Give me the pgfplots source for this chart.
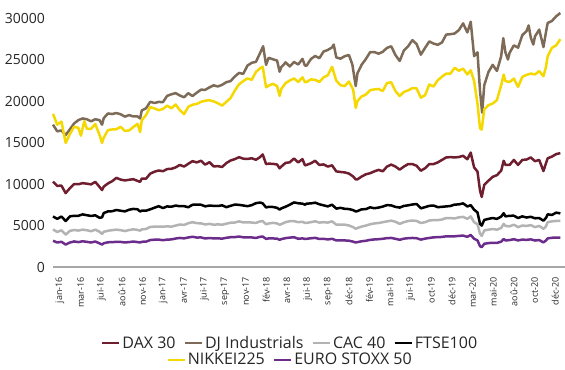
\documentclass[border=0pt]{standalone}
\usepackage{pgfplots}
\pgfplotsset{compat=1.18}
\usepackage{fontspec}
\setmainfont{Open Sans}

\definecolor{daxc}{HTML}{6E1E2E}
\definecolor{djc}{HTML}{7D6B58}
\definecolor{cacc}{HTML}{B3B3B3}
\definecolor{ftsec}{HTML}{000000}
\definecolor{nikc}{HTML}{F5D800}
\definecolor{stoxxc}{HTML}{6B2C8C}
\definecolor{axisgray}{HTML}{A6A6A6}
\definecolor{txt}{HTML}{262626}

% x = months since 1 January 2016
\pgfplotsset{
  base/.style={
    scale only axis,
    width=512bp, height=267bp,
    xmin=0, xmax=60.55,
    ymin=0, ymax=32169,
    axis x line*=bottom,
    axis y line*=left,
    x axis line style={axisgray, line width=1.5bp, -},
    y axis line style={draw=none},
    major tick length=0pt,
    xtick={0.83,3.27,5.71,8.15,10.59,13.03,15.47,17.91,20.35,22.79,25.23,27.67,30.11,32.55,34.99,37.43,39.87,42.31,44.75,47.19,49.63,52.07,54.51,56.95,59.39},
    xticklabels={jan-16,mar-16,jui-16,aoû-16,nov-16,jan-17,avr-17,jui-17,sep-17,nov-17,fév-18,avr-18,jui-18,sep-18,déc-18,fév-19,mai-19,jui-19,oct-19,déc-19,mar-20,mai-20,aoû-20,oct-20,déc-20},
    xticklabel style={rotate=90, anchor=east, font=\fontsize{9bp}{10bp}\selectfont, text=txt, inner sep=0pt},
    xticklabel shift=10bp,
    ytick={0,5000,10000,15000,20000,25000,30000},
    yticklabels={0,5000,10000,15000,20000,25000,30000},
    yticklabel style={font=\fontsize{14bp}{16bp}\selectfont, text=txt, inner sep=0pt, anchor=east},
    yticklabel shift=8bp,
    clip=false,
    legend cell align=left,
    legend image code/.code={\draw[#1, line width=2.5bp] (0bp,0bp) -- (17bp,0bp);},
    legend style={draw=none, fill=none, anchor=center,
      font=\fontsize{16bp}{18bp}\selectfont, text=txt,
      inner sep=0pt,
      nodes={inner sep=2bp},
      /tikz/every even column/.append style={column sep=6bp}},
  },
  ser/.style={line width=2.5bp, line join=round},
}

\begin{document}
\begin{tikzpicture}
\begin{axis}[base,
  legend columns=4,
  legend style={at={(axis description cs:0.463,-0.285)}},
]
% DAX 30
\addplot[ser, daxc] coordinates {
(0,10280)(0.5,9780)(1,9800)(1.5,8900)(2,9500)(2.5,9990)(3,9970)(3.5,10100)(4,10040)(4.5,9950)
(5,10260)(5.5,9650)(5.8,9270)(6,9680)(6.5,10070)(7,10340)(7.5,10740)(8,10530)(8.5,10430)(9,10510)
(9.5,10580)(10,10370)(10.3,10260)(10.5,10660)(11,10640)(11.5,11250)(12,11480)(12.5,11630)(13,11540)(13.5,11800)
(14,11830)(14.5,12000)(15,12300)(15.5,12100)(16,12440)(16.5,12750)(17,12600)(17.5,12800)(18,12330)(18.5,12630)
(19,12120)(19.5,12150)(20,12050)(20.5,12520)(21,12830)(21.5,13000)(22,13230)(22.5,13050)(23,13020)(23.5,13100)
(24,12920)(24.5,13250)(24.8,13560)(25.2,12400)(25.5,12450)(26,12430)(26.5,12350)(26.8,11890)(27,12100)(27.5,12540)
(28,12610)(28.5,13080)(29,12600)(29.5,13000)(29.8,12250)(30,12300)(30.5,12500)(31,12800)(31.5,12300)(32,12360)
(32.5,12100)(33,12250)(33.5,11520)(34,11450)(34.5,11400)(35,11260)(35.5,10900)(35.8,10560)(36,10560)(36.5,10900)
(37,11170)(37.5,11300)(38,11520)(38.5,11700)(39,11530)(39.5,12100)(40,12340)(40.5,12100)(41,11730)(41.5,12100)
(42,12400)(42.5,12400)(43,12200)(43.5,11600)(44,11900)(44.5,12400)(45,12400)(45.5,12600)(46,12900)(46.5,13200)
(47,13240)(47.5,13200)(48,13250)(48.5,13400)(49,12980)(49.4,13780)(49.8,12000)(50.2,11500)(50.5,9200)(50.7,8440)
(51,9900)(51.5,10400)(52,10860)(52.5,11070)(53,11600)(53.3,12800)(53.5,12300)(54,12300)(54.5,12900)(55,12300)
(55.5,12900)(56,12950)(56.5,13200)(57,12750)(57.5,12900)(58,11560)(58.3,12500)(58.5,13100)(59,13300)(59.5,13600)(60,13720)
};
\addlegendentry{DAX 30}
% DJ Industrials
\addplot[ser, djc] coordinates {
(0,17150)(0.5,16350)(1,16450)(1.5,15900)(2,16600)(2.5,17300)(3,17700)(3.5,17900)(4,17800)(4.5,17550)
(5,17800)(5.5,17700)(5.8,17140)(6,17930)(6.5,18500)(7,18430)(7.5,18550)(8,18400)(8.5,18120)(9,18300)
(9.5,18140)(10,18140)(10.3,17900)(10.5,18870)(11,19120)(11.5,19900)(12,19760)(12.5,19890)(13,19860)(13.5,20620)
(14,20810)(14.5,20950)(15,20660)(15.5,20450)(16,20940)(16.5,20600)(17,21000)(17.5,21360)(18,21350)(18.5,21640)
(19,21890)(19.5,21750)(20,21950)(20.5,22270)(21,22400)(21.5,22950)(22,23380)(22.5,23270)(23,24270)(23.5,24600)
(24,24720)(24.5,25800)(24.85,26600)(25.2,24350)(25.5,25200)(26,25030)(26.5,24870)(26.8,23530)(27,24100)(27.3,24400)
(27.5,24660)(28,24160)(28.5,24700)(29,24400)(29.5,25080)(29.8,24250)(30,24270)(30.5,25060)(31,25420)(31.5,25160)
(32,25960)(32.5,26150)(33,26460)(33.2,26800)(33.5,25250)(34,25100)(34.5,25400)(35,25540)(35.4,24400)(35.8,21800)
(36,23330)(36.5,24370)(37,25060)(37.5,25880)(38,25900)(38.5,25700)(39,25930)(39.5,26400)(40,26590)(40.5,25530)
(41,24820)(41.5,26090)(42,26600)(42.5,27330)(43,26860)(43.5,25580)(44,26400)(44.5,27180)(45,26920)(45.5,26770)
(46,27050)(46.5,28000)(47,28050)(47.5,28130)(48,28540)(48.5,29350)(49,28260)(49.4,29550)(49.8,25400)(50.2,25860)
(50.5,21200)(50.75,18600)(51,21900)(51.5,23500)(52,24350)(52.5,23620)(53,25380)(53.25,27570)(53.5,25870)(53.8,25000)
(54,25810)(54.5,26700)(55,26430)(55.5,27930)(56,28430)(56.25,29100)(56.5,27660)(56.8,26800)(57,27780)(57.5,28600)
(58,26500)(58.3,28300)(58.5,29400)(59,29640)(59.5,30200)(60,30600)
};
\addlegendentry{DJ Industrials}
% CAC 40
\addplot[ser, cacc] coordinates {
(0,4520)(0.5,4220)(1,4420)(1.5,3900)(2,4350)(2.5,4460)(3,4390)(3.5,4500)(4,4430)(4.5,4310)
(5,4500)(5.5,4250)(5.8,3990)(6,4240)(6.5,4370)(7,4440)(7.5,4500)(8,4440)(8.5,4330)(9,4450)
(9.5,4540)(10,4470)(10.3,4380)(10.5,4530)(11,4580)(11.5,4830)(12,4860)(12.5,4860)(13,4850)(13.5,4900)
(14,4860)(14.5,4990)(15,5120)(15.5,5070)(16,5270)(16.5,5400)(17,5280)(17.5,5260)(18,5120)(18.5,5200)
(19,5090)(19.5,5140)(20,5090)(20.5,5220)(21,5330)(21.5,5360)(22,5500)(22.5,5370)(23,5370)(23.5,5360)
(24,5310)(24.5,5500)(24.8,5520)(25.2,5150)(25.5,5240)(26,5320)(26.5,5250)(26.8,5090)(27,5170)(27.5,5400)
(28,5520)(28.5,5530)(29,5400)(29.5,5450)(29.8,5310)(30,5320)(30.5,5400)(31,5510)(31.5,5350)(32,5400)
(32.5,5350)(33,5500)(33.5,5100)(34,5090)(34.5,5100)(35,5000)(35.5,4800)(35.8,4600)(36,4700)(36.5,4870)
(37,4990)(37.5,5150)(38,5250)(38.5,5300)(39,5400)(39.5,5500)(40,5580)(40.5,5450)(41,5200)(41.5,5400)
(42,5540)(42.5,5600)(43,5550)(43.5,5300)(44,5400)(44.5,5600)(45,5650)(45.5,5650)(46,5720)(46.5,5900)
(47,5900)(47.5,5850)(48,5980)(48.5,6040)(49,5800)(49.4,6100)(49.8,5400)(50.2,5150)(50.5,4000)(50.7,3750)
(51,4400)(51.5,4500)(52,4570)(52.5,4500)(53,4700)(53.3,5200)(53.5,4950)(54,4900)(54.5,5100)(55,4800)
(55.5,5000)(56,4950)(56.5,5050)(57,4800)(57.5,4950)(58,4600)(58.3,4900)(58.5,5400)(59,5500)(59.5,5550)(60,5550)
};
\addlegendentry{CAC 40}
% FTSE100
\addplot[ser, ftsec] coordinates {
(0,6090)(0.5,5800)(1,6080)(1.5,5540)(2,6100)(2.5,6170)(3,6170)(3.5,6340)(4,6240)(4.5,6150)
(5,6230)(5.5,5930)(5.8,5980)(6,6500)(6.5,6700)(7,6720)(7.5,6870)(8,6780)(8.5,6700)(9,6900)
(9.5,7000)(10,6950)(10.3,6690)(10.5,6790)(11,6780)(11.5,6950)(12,7140)(12.5,7330)(13,7100)(13.5,7300)
(14,7260)(14.5,7400)(15,7320)(15.5,7330)(16,7200)(16.5,7500)(17,7520)(17.5,7500)(18,7310)(18.5,7400)
(19,7370)(19.5,7350)(20,7430)(20.5,7210)(21,7370)(21.5,7520)(22,7490)(22.5,7410)(23,7330)(23.5,7450)
(24,7690)(24.5,7770)(24.8,7670)(25.2,7170)(25.5,7250)(26,7230)(26.5,7130)(26.8,6920)(27,7060)(27.5,7260)
(28,7510)(28.5,7780)(29,7680)(29.5,7630)(29.8,7510)(30,7640)(30.5,7660)(31,7750)(31.5,7560)(32,7430)
(32.5,7300)(33,7510)(33.5,7030)(34,7130)(34.5,7010)(35,6980)(35.5,6850)(35.8,6690)(36,6730)(36.5,6950)
(37,6970)(37.5,7190)(38,7080)(38.5,7160)(39,7280)(39.5,7460)(40,7420)(40.5,7240)(41,7160)(41.5,7360)
(42,7430)(42.5,7530)(43,7590)(43.5,7070)(44,7210)(44.5,7370)(45,7410)(45.5,7210)(46,7250)(46.5,7300)
(47,7350)(47.5,7520)(48,7540)(48.5,7670)(49,7290)(49.4,7450)(49.8,6900)(50.2,6580)(50.5,5200)(50.7,4990)
(51,5670)(51.5,5800)(52,5900)(52.5,5800)(53,6070)(53.3,6480)(53.5,6100)(54,6170)(54.5,6180)(55,5900)
(55.5,6100)(56,5960)(56.5,6050)(57,5870)(57.5,5900)(58,5580)(58.3,5910)(58.5,6350)(59,6270)(59.5,6550)(60,6460)
};
\addlegendentry{FTSE100}
% NIKKEI225
\addplot[ser, nikc] coordinates {
(0,18450)(0.5,17150)(1,17520)(1.5,14950)(2,16030)(2.5,16900)(3,16760)(3.3,15820)(3.7,17570)(4,16660)
(4.5,16650)(5,17230)(5.5,15920)(5.8,14950)(6,15580)(6.5,16500)(7,16570)(7.5,16600)(8,16890)(8.5,16400)
(9,16450)(9.5,16860)(10,17250)(10.3,16250)(10.5,17670)(11,18300)(11.5,19270)(12,19110)(12.5,18890)(13,19040)
(13.5,19440)(14,19120)(14.5,19580)(15,18900)(15.5,18420)(16,19300)(16.5,19550)(17,19650)(17.5,19900)(18,20030)
(18.5,20100)(19,19950)(19.5,19730)(20,19450)(20.5,19900)(21,20360)(21.5,21250)(22,22010)(22.5,22400)(23,22720)
(23.5,22550)(24,23500)(24.5,23950)(24.8,24120)(25.2,21650)(25.5,21850)(26,22070)(26.5,21800)(26.8,20620)(27,21450)
(27.5,22150)(28,22470)(28.5,22720)(29,22300)(29.5,22850)(29.8,22270)(30,22300)(30.5,22600)(31,22550)(31.5,22300)
(32,22850)(32.5,23100)(33,24120)(33.5,22450)(34,21900)(34.5,21800)(35,22350)(35.5,21370)(35.8,19160)(36,20000)
(36.5,20550)(37,20770)(37.5,21300)(38,21400)(38.5,21450)(39,21200)(39.5,22170)(40,22250)(40.5,21190)(41,20600)
(41.5,21100)(42,21280)(42.5,21550)(43,21520)(43.5,20400)(44,20700)(44.5,21990)(45,21750)(45.5,22500)(46,22930)
(46.5,23300)(47,23300)(47.5,24000)(48,23650)(48.5,23900)(49,23200)(49.4,23700)(49.8,22400)(50.2,19700)(50.5,16700)
(50.7,16550)(51,19000)(51.5,19500)(52,19700)(52.5,20100)(53,21900)(53.3,23180)(53.5,22400)(54,22290)(54.5,22700)
(55,21700)(55.5,22900)(56,23150)(56.5,23300)(57,23200)(57.5,23600)(58,22980)(58.3,24100)(58.5,25400)(59,26400)
(59.5,26700)(60,27450)
};
% EURO STOXX 50
\addplot[ser, stoxxc] coordinates {
(0,3160)(0.5,2950)(1,3040)(1.5,2700)(2,2950)(2.5,3080)(3,3000)(3.5,3100)(4,3030)(4.5,2950)
(5,3070)(5.5,2850)(5.8,2700)(6,2860)(6.5,2980)(7,2990)(7.5,3040)(8,3020)(8.5,2960)(9,3000)
(9.5,3070)(10,3000)(10.3,2950)(10.5,3040)(11,3050)(11.5,3250)(12,3290)(12.5,3300)(13,3230)(13.5,3300)
(14,3320)(14.5,3430)(15,3500)(15.5,3450)(16,3560)(16.5,3640)(17,3550)(17.5,3560)(18,3440)(18.5,3490)
(19,3450)(19.5,3450)(20,3420)(20.5,3520)(21,3590)(21.5,3600)(22,3670)(22.5,3580)(23,3570)(23.5,3560)
(24,3500)(24.5,3640)(24.8,3670)(25.2,3390)(25.5,3440)(26,3440)(26.5,3420)(26.8,3280)(27,3360)(27.5,3480)
(28,3540)(28.5,3590)(29,3400)(29.5,3450)(29.8,3380)(30,3400)(30.5,3460)(31,3510)(31.5,3380)(32,3400)
(32.5,3320)(33,3400)(33.5,3200)(34,3200)(34.5,3200)(35,3170)(35.5,3050)(35.8,2950)(36,3000)(36.5,3100)
(37,3160)(37.5,3270)(38,3320)(38.5,3350)(39,3400)(39.5,3480)(40,3500)(40.5,3400)(41,3280)(41.5,3420)
(42,3470)(42.5,3500)(43,3470)(43.5,3300)(44,3420)(44.5,3500)(45,3570)(45.5,3600)(46,3620)(46.5,3700)
(47,3700)(47.5,3700)(48,3750)(48.5,3780)(49,3640)(49.4,3860)(49.8,3400)(50.2,3200)(50.5,2500)(50.7,2390)
(51,2800)(51.5,2880)(52,2920)(52.5,2900)(53,3050)(53.3,3380)(53.5,3200)(54,3240)(54.5,3350)(55,3200)
(55.5,3300)(56,3270)(56.5,3330)(57,3190)(57.5,3250)(58,2960)(58.3,3200)(58.5,3450)(59,3520)(59.5,3550)(60,3550)
};
\end{axis}
% second legend row, centred under the first
\begin{axis}[base, hide axis, legend columns=2,
  legend style={at={(axis description cs:0.463,-0.348)}}]
\addlegendimage{ser, nikc}
\addlegendentry{NIKKEI225}
\addlegendimage{ser, stoxxc}
\addlegendentry{EURO STOXX 50}
\end{axis}
\pgfresetboundingbox
\path (-53bp,-103bp) rectangle (512bp,267bp);
\end{tikzpicture}
\end{document}
